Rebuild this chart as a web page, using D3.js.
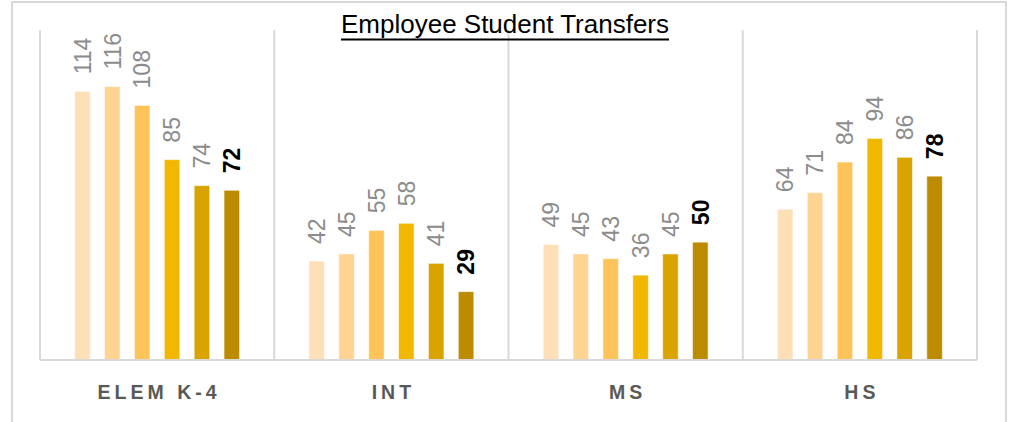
<!DOCTYPE html>
<html>
<head>
<meta charset="utf-8">
<script src="https://cdn.jsdelivr.net/npm/d3@7"></script>
<style>
  html, body { margin: 0; padding: 0; background: #fff; }
  svg { display: block; }
</style>
</head>
<body>
<svg id="chart" width="1009" height="422"></svg>
<script>
// ---- data ----
const categories = ["ELEM K-4", "INT", "MS", "HS"];
const seriesNames = ["Series 1", "Series 2", "Series 3", "Series 4", "Series 5", "Series 6"];
const series1 = [114, 42, 49, 64];
const series2 = [116, 45, 45, 71];
const series3 = [108, 55, 43, 84];
const series4 = [85, 58, 36, 94];
const series5 = [74, 41, 45, 86];
const series6 = [72, 29, 50, 78];
const seriesColors = ["#FFDFB7", "#FFD391", "#FEC459", "#F2B700", "#D9A300", "#BD8B00"];
const title = "Employee Student Transfers";

const seriesValues = [series1, series2, series3, series4, series5, series6];

// ---- layout ----
const W = 1009, H = 422;
const plot = { left: 40, right: 977, top: 30, bottom: 360 };
const svg = d3.select("#chart");

// outer frame
svg.append("rect")
  .attr("x", 12).attr("y", 2)
  .attr("width", 994).attr("height", 440)
  .attr("fill", "none").attr("stroke", "#d9d9d9").attr("stroke-width", 2);

const x0 = d3.scaleBand().domain(categories).range([plot.left, plot.right]).padding(0);
const x1 = d3.scaleBand().domain(seriesNames)
  .range([27.5, x0.bandwidth() - 27.5]).paddingInner(0.48).paddingOuter(0.24);
const y = d3.scaleLinear().domain([0, 140]).range([plot.bottom, plot.top]);

// group separators
const seps = categories.map(c => x0(c)).concat([plot.right]);
svg.append("g").selectAll("line").data(seps).join("line")
  .attr("x1", d => d).attr("x2", d => d)
  .attr("y1", plot.top).attr("y2", plot.bottom)
  .attr("stroke", "#d9d9d9").attr("stroke-width", 2);

// bars
const groups = svg.append("g").selectAll("g").data(categories).join("g")
  .attr("transform", c => `translate(${x0(c)},0)`);

groups.selectAll("rect")
  .data((c, ci) => seriesNames.map((s, si) => ({ s, si, v: seriesValues[si][ci] })))
  .join("rect")
  .attr("x", d => x1(d.s))
  .attr("width", x1.bandwidth())
  .attr("y", d => y(d.v))
  .attr("height", d => y(0) - y(d.v))
  .attr("fill", d => seriesColors[d.si])
  .attr("stroke", "rgba(255,255,255,0.55)")
  .attr("stroke-width", 1);

// value labels
groups.selectAll("text")
  .data((c, ci) => seriesNames.map((s, si) => ({ s, si, v: seriesValues[si][ci] })))
  .join("text")
  .attr("transform", d => `translate(${x1(d.s) + x1.bandwidth() / 2},${y(d.v) - 17}) rotate(-90)`)
  .attr("dy", "0.36em")
  .attr("text-anchor", "start")
  .attr("font-family", "'Liberation Sans', Arial, sans-serif")
  .attr("font-size", 23)
  .attr("font-weight", d => d.si === 5 ? "bold" : "normal")
  .attr("fill", d => d.si === 5 ? "#000000" : "#8c8c8c")
  .text(d => d.v);

// baseline axis
svg.append("line")
  .attr("x1", plot.left).attr("x2", plot.right)
  .attr("y1", plot.bottom).attr("y2", plot.bottom)
  .attr("stroke", "#d9d9d9").attr("stroke-width", 2);

// category labels
svg.append("g").selectAll("text").data(categories).join("text")
  .attr("x", c => x0(c) + x0.bandwidth() / 2 + 2)
  .attr("y", 399)
  .attr("text-anchor", "middle")
  .attr("font-family", "'Liberation Sans', Arial, sans-serif")
  .attr("font-size", 19.5)
  .attr("font-weight", "bold")
  .attr("letter-spacing", 4)
  .attr("fill", "#595959")
  .text(c => c);

// title
const t = svg.append("text")
  .attr("x", 505).attr("y", 33)
  .attr("text-anchor", "middle")
  .attr("font-family", "'Liberation Sans', Arial, sans-serif")
  .attr("font-size", 24)
  .attr("fill", "#000")
  .text(title);
const tw = t.node().getComputedTextLength();
const fs = 24 * 336 / tw;
t.attr("font-size", Math.min(26, fs));
const bb = t.node().getBBox();
svg.append("line")
  .attr("x1", bb.x).attr("x2", bb.x + bb.width)
  .attr("y1", 39.5).attr("y2", 39.5)
  .attr("stroke", "#000").attr("stroke-width", 2);
</script>
</body>
</html>
